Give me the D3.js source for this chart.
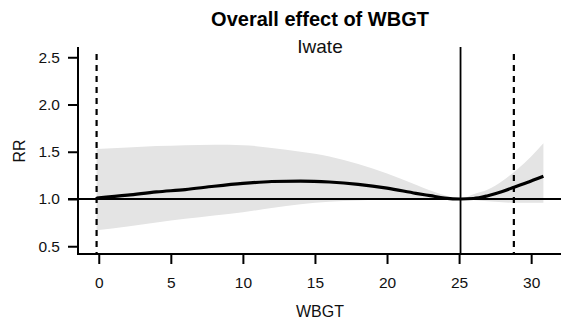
<!DOCTYPE html>
<html><head><meta charset="utf-8">
<script src="https://cdn.jsdelivr.net/npm/d3@7"></script>
<style>body{margin:0;background:#fff}svg{display:block}text{font-family:"Liberation Sans",Arial,sans-serif}</style>
</head><body>
<svg id="c" width="561" height="324"></svg>
<script>
const title = "Overall effect of WBGT";
const subtitle = "Iwate";
const xLabel = "WBGT";
const yLabel = "RR";
const xTicks = [0, 5, 10, 15, 20, 25, 30];
const yTicks = [0.5, 1.0, 1.5, 2.0, 2.5];
const wbgt  = [-0.15, 2, 4, 6, 8, 10, 12, 14, 16, 18, 20, 22, 23, 24, 25.1, 26, 27, 28, 29, 30, 30.85];
const rr    = [1.01, 1.04, 1.075, 1.10, 1.135, 1.165, 1.185, 1.19, 1.18, 1.155, 1.115, 1.06, 1.035, 1.01, 1.0, 1.005, 1.035, 1.08, 1.135, 1.19, 1.24];
const upper = [1.53, 1.545, 1.56, 1.57, 1.575, 1.57, 1.54, 1.50, 1.45, 1.37, 1.27, 1.15, 1.09, 1.04, 1.0, 1.05, 1.10, 1.19, 1.31, 1.45, 1.59];
const lower = [0.67, 0.71, 0.75, 0.79, 0.825, 0.86, 0.905, 0.945, 0.97, 0.985, 0.995, 0.995, 0.997, 0.998, 1.0, 0.99, 0.975, 0.965, 0.96, 0.96, 0.96];
const refLine = 1.0;
const centreValue = 25.1;
const percentileLines = [-0.15, 28.8];

const svg = d3.select("#c");
const x = d3.scaleLinear().domain([-1.44, 32.14]).range([78, 562]);
const y = d3.scaleLinear().domain([0.42, 2.58]).range([253.8, 49.7]);
const plotTop = 47, plotBottom = 254;

const data = wbgt.map((w, i) => ({w, rr: rr[i], lo: lower[i], hi: upper[i]}));

svg.append("path").datum(data)
  .attr("fill", "#e4e4e4")
  .attr("d", d3.area().x(d => x(d.w)).y0(d => y(d.lo)).y1(d => y(d.hi)).curve(d3.curveMonotoneX));

svg.append("line").attr("x1", 68).attr("x2", 561).attr("y1", y(refLine)).attr("y2", y(refLine))
  .attr("stroke", "#000").attr("stroke-width", 1.8);

svg.append("line").attr("x1", x(centreValue)).attr("x2", x(centreValue)).attr("y1", plotTop).attr("y2", plotBottom)
  .attr("stroke", "#000").attr("stroke-width", 1.8);

percentileLines.forEach(v => {
  svg.append("line").attr("x1", x(v)).attr("x2", x(v)).attr("y1", 54).attr("y2", plotBottom)
    .attr("stroke", "#000").attr("stroke-width", 2.2).attr("stroke-dasharray", "6,5");
});

svg.append("path").datum(data)
  .attr("fill", "none").attr("stroke", "#000").attr("stroke-width", 3.2)
  .attr("d", d3.line().x(d => x(d.w)).y(d => y(d.rr)).curve(d3.curveMonotoneX));

const xa = svg.append("g").attr("transform", `translate(0,${plotBottom})`)
  .call(d3.axisBottom(x).tickValues(xTicks).tickSize(10).tickPadding(13).tickFormat(d3.format("d")));
xa.select(".domain").remove();
xa.selectAll("line").attr("stroke-width", 2);
xa.selectAll("text").attr("font-size", 15.5).attr("fill", "#111").attr("font-family", "Liberation Sans, Arial, sans-serif");

const ya = svg.append("g").attr("transform", `translate(78,0)`)
  .call(d3.axisLeft(y).tickValues(yTicks).tickSize(10).tickPadding(8).tickFormat(d3.format(".1f")));
ya.select(".domain").remove();
ya.selectAll("line").attr("stroke-width", 2);
ya.selectAll("text").attr("font-size", 15.5).attr("fill", "#111").attr("font-family", "Liberation Sans, Arial, sans-serif");

svg.append("path").attr("d", `M78,${plotTop}V${plotBottom}H561`).attr("fill", "none").attr("stroke", "#000").attr("stroke-width", 2);

svg.append("text").attr("x", 320).attr("y", 26).attr("text-anchor", "middle")
  .attr("font-size", 20).attr("font-weight", "bold").text(title);
svg.append("text").attr("x", 320).attr("y", 53).attr("text-anchor", "middle")
  .attr("font-size", 19).attr("fill", "#111").text(subtitle);
svg.append("text").attr("x", 320).attr("y", 317).attr("text-anchor", "middle")
  .attr("font-size", 16).attr("fill", "#111").text(xLabel);
svg.append("text").attr("transform", "translate(25,151) rotate(-90)").attr("text-anchor", "middle")
  .attr("font-size", 16).attr("fill", "#111").text(yLabel);
</script>
</body></html>
